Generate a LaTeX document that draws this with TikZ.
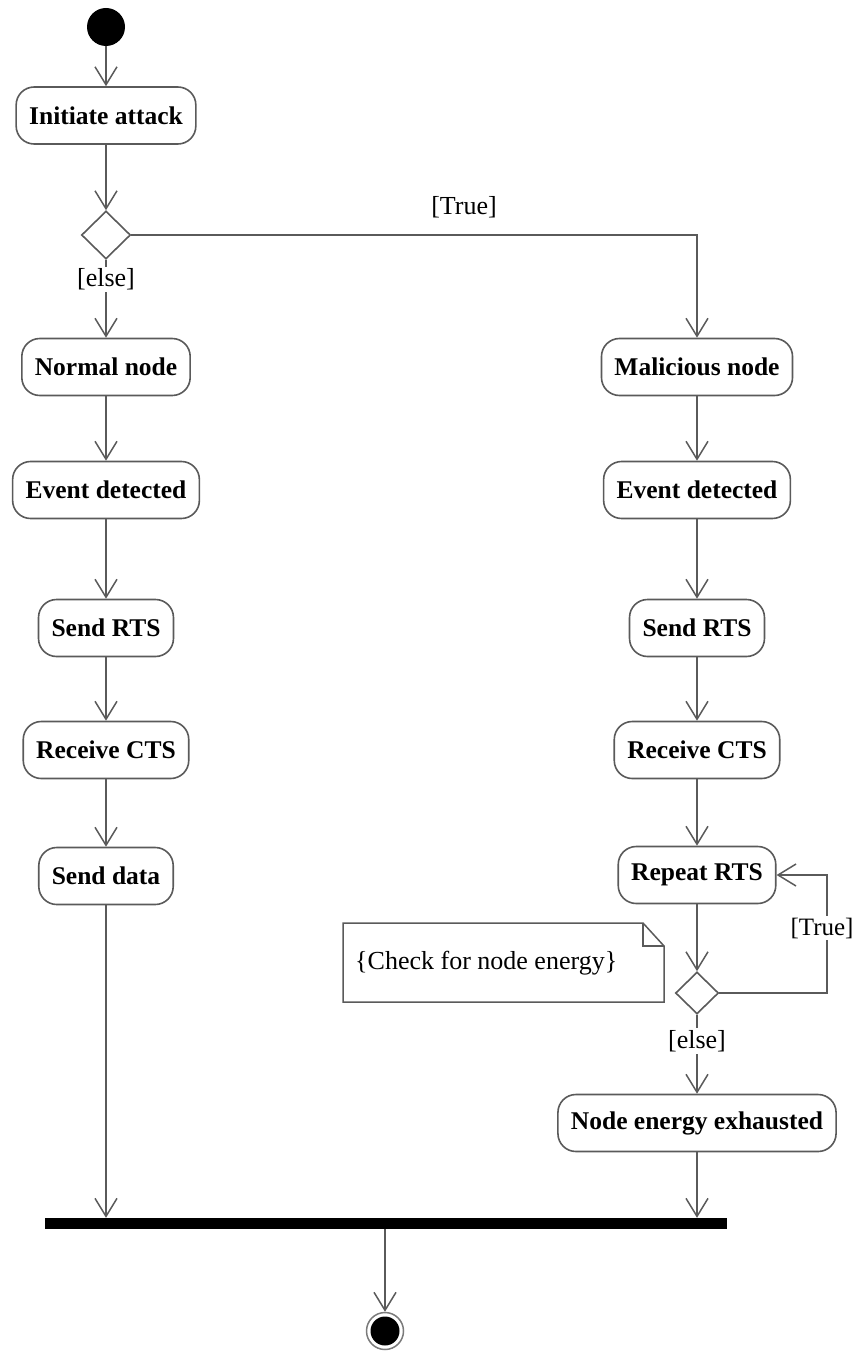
\documentclass[tikz,border=0pt]{standalone}
\usepackage{fontspec}
\setmainfont{Liberation Serif}
\usetikzlibrary{arrows.meta,shapes.geometric}
\definecolor{edge}{HTML}{5A5A5A}
\begin{document}
\begin{tikzpicture}[x=1pt,y=-1pt,
  every node/.style={font=\fontsize{26}{30}\selectfont},
  action/.style={draw=edge,line width=1.6pt,rounded corners=18pt,fill=white,
    minimum height=57pt,inner xsep=13pt,font=\fontsize{25.5}{30}\selectfont\bfseries},
  choice/.style={draw=edge,line width=1.6pt,diamond,fill=white,inner sep=0pt,
    minimum width=49pt,minimum height=48pt},
  guard/.style={fill=white,inner xsep=0pt,inner ysep=2pt,font=\fontsize{26}{30}\selectfont},
  flow/.style={draw=edge,line width=1.5pt,-{Straight Barb[length=18pt,width=22pt,line width=1.5pt]}},
  plain/.style={draw=edge,line width=1.5pt}]
\useasboundingbox (0,0) rectangle (857,1351);

% start and decision
\node[circle,fill=black,minimum size=38pt,inner sep=0pt] (start) at (106,27) {};
\node[action] (init) at (106,115.5) {Initiate attack};
\node[choice] (d1) at (106,235) {};

% left branch
\node[action] (normal) at (106,367) {Normal node};
\node[action] (evl) at (106,490) {Event detected};
\node[action] (rtsl) at (106,628) {Send RTS};
\node[action] (ctsl) at (106,750) {Receive CTS};
\node[action] (data) at (106,876) {Send data};

% right branch
\node[action] (mal) at (697,367) {Malicious node};
\node[action] (evr) at (697,490) {Event detected};
\node[action] (rtsr) at (697,628) {Send RTS};
\node[action] (ctsr) at (697,750) {Receive CTS};
\node[action] (rep) at (697,875) {Repeat RTS};
\node[choice,minimum width=43pt,minimum height=42pt] (d2) at (697,993) {};
\node[action] (exh) at (697,1123) {Node energy exhausted};
\coordinate (loop) at (827,993);

% join bar and final node
\node[fill=black,minimum width=682pt,minimum height=11pt,inner sep=0pt] (bar) at (386,1223.5) {};
\node[circle,draw=edge!80,line width=1.5pt,fill=white,minimum size=37pt,inner sep=0pt] (final) at (385,1331) {};
\node[circle,fill=black,minimum size=29pt,inner sep=0pt] (finalcore) at (final.center) {};

% comment note
\draw[plain,fill=white] (343,923) -- (643,923) -- (664,946) -- (664,1002) -- (343,1002) -- cycle;
\draw[plain] (643,923) -- (643,946) -- (664,946);
\node[anchor=west,inner sep=0pt] (note) at (355,963) {\{Check for node energy\}};

% connectors
\draw[flow] (start) -- (init);
\draw[flow] (init) -- (d1);
\draw[flow] (d1) -- node[guard,pos=0.25] {[else]} (normal);
\draw[flow] (d1.east) -| (mal.north);
\node[inner sep=0pt] (tlabel) at (464,207) {[True]};
\draw[flow] (normal) -- (evl);
\draw[flow] (evl) -- (rtsl);
\draw[flow] (rtsl) -- (ctsl);
\draw[flow] (ctsl) -- (data);
\draw[flow] (data) -- (data |- bar.north);
\draw[flow] (mal) -- (evr);
\draw[flow] (evr) -- (rtsr);
\draw[flow] (rtsr) -- (ctsr);
\draw[flow] (ctsr) -- (rep);
\draw[flow] (rep) -- (d2);
\draw[flow] (d2.east) -- (loop) -- node[guard,pos=0.55,xshift=-5pt,font=\fontsize{25}{30}\selectfont] {[True]} (loop |- rep.east) -- (rep.east);
\draw[flow] (d2) -- node[guard,pos=0.33] {[else]} (exh);
\draw[flow] (exh) -- (exh |- bar.north);
\draw[flow] (bar.south -| final) -- (final);
\end{tikzpicture}
\end{document}
